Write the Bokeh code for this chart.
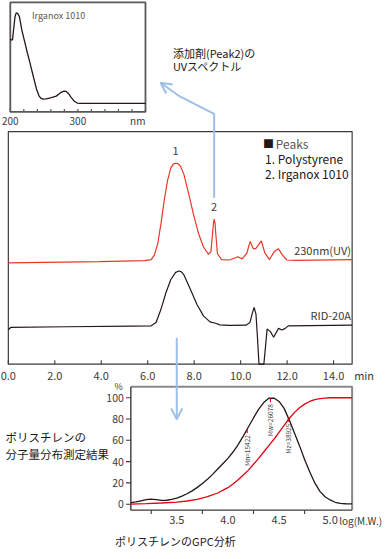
import numpy as np
from bokeh.plotting import figure
from bokeh.models import Range1d, Arrow, OpenHead
from bokeh.core.properties import value
from bokeh.embed import file_html
from bokeh.resources import INLINE

# ---------------- data ----------------
# UV spectrum of Irganox 1010 (inset)
spec_nm = [200, 201.5, 203.3, 205, 207, 208.7, 211, 213.5, 217, 221.7, 225, 229, 233.8,
           238.7, 242.5, 245, 248.3, 253, 258, 263, 268, 272, 275, 279.7, 282, 284.5,
           287, 289.4, 294.2, 299, 303, 310, 400]
spec_abs = [0.667, 0.655, 0.66, 0.76, 0.87, 0.905, 0.9, 0.87, 0.75, 0.63, 0.545, 0.45,
            0.33, 0.21, 0.147, 0.125, 0.117, 0.119, 0.126, 0.134, 0.144, 0.163, 0.178,
            0.19, 0.188, 0.177, 0.16, 0.138, 0.10, 0.081, 0.078, 0.078, 0.078]
spec_ticks = [200, 220, 240, 260, 280, 300, 320, 340, 360, 380, 400]
spec_label_pos = [200, 300]
spec_labels = ["200", "300"]

# Chromatogram, 230nm (UV)
uv_t = [0.0, 3.9, 5.87, 6.15, 6.29, 6.43, 6.57, 6.71, 6.85, 6.99, 7.1, 7.2, 7.3, 7.41,
        7.56, 7.77, 7.98, 8.19, 8.4, 8.61, 8.72, 8.79, 8.83, 8.86, 8.9, 8.93, 9.0, 9.17,
        9.52, 9.88, 10.06, 10.26, 10.41, 10.54, 10.65, 10.75, 10.89, 11.04, 11.24,
        11.46, 11.63, 11.8, 11.99, 12.34, 14.8]
uv_s = [43.6, 44.1, 44.5, 45.0, 47.0, 51.8, 60.3, 70.3, 78.8, 84.3, 86.0, 86.4, 86.2,
        85.2, 81.5, 73.0, 64.0, 56.1, 50.4, 47.3, 48.3, 56.1, 60.5, 62.4, 60.5, 56.1,
        47.6, 45.0, 44.8, 46.2, 45.3, 47.6, 52.8, 49.7, 49.7, 51.1, 53.0, 47.9, 45.0,
        48.6, 49.6, 46.9, 44.8, 44.6, 45.0]

# Chromatogram, RID-20A
ri_t = [0.0, 0.1, 2.5, 5.3, 6.15, 6.36, 6.57, 6.78, 6.99, 7.2, 7.35, 7.45, 7.56, 7.84,
        8.12, 8.4, 8.68, 8.96, 9.1, 9.52, 10.23, 10.4, 10.51, 10.58, 10.66, 10.72,
        10.79, 11.0, 11.14, 11.28, 11.42, 11.63, 11.78, 11.92, 12.05, 14.8]
ri_s = [14.8, 15.8, 16.1, 16.4, 16.5, 17.9, 23.6, 30.6, 36.3, 39.5, 40.1, 39.7, 38.4,
        32.1, 25.7, 20.8, 18.2, 17.5, 16.9, 16.7, 16.8, 17.9, 22.2, 24.4, 21.5, 12.3,
        0.0, 0.0, 15.1, 14.0, 11.6, 15.4, 14.7, 15.4, 16.5, 16.8]
main_ticks = [0, 2, 4, 6, 8, 10, 12, 14]
main_tick_labels = ["0.0", "2.0", "4.0", "6.0", "8.0", "10.0", "12.0", "14.0"]
peak_t = [7.2, 8.86]
peak_labels = ["1", "2"]

# GPC molecular weight distribution
gpc_log = [3.05, 3.1, 3.15, 3.2, 3.245, 3.3, 3.35, 3.4, 3.45, 3.5, 3.55, 3.6, 3.65, 3.7,
           3.75, 3.8, 3.85, 3.9, 3.95, 4.0, 4.05, 4.1, 4.15, 4.2, 4.25, 4.3, 4.35, 4.4,
           4.45, 4.5, 4.55, 4.6, 4.65, 4.7, 4.75, 4.8, 4.85, 4.9, 4.95, 5.0, 5.05, 5.1,
           5.15, 5.215]
gpc_diff = [1.5, 2.2, 3.2, 4.2, 4.8, 4.3, 3.6, 3.7, 4.5, 5.8, 7.5, 9.8, 12.5, 15.8,
            19.5, 23.5, 28.0, 33.0, 38.0, 43.0, 49.0, 56.0, 64.0, 72.5, 81.0, 89.0,
            95.5, 99.5, 99.7, 96.5, 90.0, 79.0, 67.0, 55.0, 42.0, 30.5, 20.0, 12.0,
            7.0, 4.0, 1.8, 0.8, 0.4, 0.2]
cum_log = [3.05, 3.2, 3.35, 3.5, 3.6, 3.7, 3.8, 3.9, 4.0, 4.05, 4.1, 4.15, 4.2, 4.25,
           4.3, 4.35, 4.4, 4.45, 4.5, 4.55, 4.6, 4.65, 4.7, 4.75, 4.8, 4.85, 4.9, 4.95,
           5.0, 5.215]
gpc_cum = [0.0, 0.5, 1.1, 1.9, 3.0, 4.6, 7.0, 10.5, 15.5, 19.0, 23.0, 27.5, 32.0, 37.5,
           43.0, 49.0, 55.0, 61.0, 67.5, 74.0, 80.5, 86.0, 90.5, 94.0, 96.5, 98.2, 99.2,
           99.7, 100.0, 100.0]
gpc_yticks = [0, 20, 40, 60, 80, 100]
gpc_ylabels = ["0", "20", "40", "60", "80", "100"]
gpc_xticks = [3.25, 3.75, 4.25, 4.75]
gpc_xlabel_pos = [3.5, 4.0, 4.5, 5.0]
gpc_xlabels = ["3.5", "4.0", "4.5", "5.0"]
stat_log = [4.188, 4.416, 4.590]
stat_labels = ["Mn=15422", "Mw=26078", "Mz=38925"]

# ---------------- styles ----------------
W, H = 392, 559
FONT = value("Noto Sans CJK JP")
RED = "#e8382b"
GRED = "#e60012"
BLACK = "#231815"
BLUE = "#9fbfe6"
FRAME = "#3e3a39"
TXT = "#3e3a39"


def xmap(d0, p0, d1, p1):
    k = (p1 - p0) / (d1 - d0)
    s = d0 - p0 / k
    return Range1d(s, s + W / k)


def ymap(d0, p0, d1, p1):
    k = (p0 - p1) / (d1 - d0)
    e = d1 + p1 / k
    return Range1d(e - H / k, e)


p = figure(width=384, height=551, x_range=Range1d(0, W), y_range=Range1d(H, 0),
           x_axis_type=None, y_axis_type=None, output_backend="svg",
           toolbar_location=None, min_border=0, outline_line_color=None)
p.extra_x_ranges = {"spec": xmap(200, 10, 400, 148),
                    "main": xmap(0, 8, 14, 340),
                    "gpc": xmap(3.5, 180, 5.0, 336.5)}
p.extra_y_ranges = {"spec": ymap(0, 113, 1, 2),
                    "main": ymap(0, 369, 100, 133),
                    "gpc": ymap(0, 511, 100, 403)}
MK = 236 / 100.0      # px per main unit
GK = 108 / 100.0      # px per gpc unit
SK = 111.0            # px per spectrum unit
GXK = 156.5 / 1.5     # px per log unit

S = dict(x_range_name="spec", y_range_name="spec")
M = dict(x_range_name="main", y_range_name="main")
G = dict(x_range_name="gpc", y_range_name="gpc")

# ---- inset UV spectrum ----
p.quad(left=[200], right=[400], bottom=[0], top=[1], fill_alpha=0,
       line_color="#595757", line_width=1.8, **S)
p.segment(x0=spec_ticks, y0=[0] * len(spec_ticks), x1=spec_ticks,
          y1=[3 / SK] * len(spec_ticks), line_color="#595757", line_width=1.2, **S)
p.line(spec_nm, spec_abs, line_color=BLACK, line_width=1.3, **S)
p.text(x=spec_label_pos, y=[0, 0], text=spec_labels, text_align="center",
       text_baseline="middle", y_offset=9, text_font=FONT, text_font_size="10px",
       text_color=TXT, **S)
p.text(x=[400], y=[0], text=["nm"], text_align="right", text_baseline="middle",
       y_offset=9, text_font=FONT, text_font_size="10px", text_color=TXT, **S)
p.text(x=[232], y=[0.88], text=["Irganox 1010"], text_align="left",
       text_baseline="middle", text_font=FONT, text_font_size="9px",
       text_color="#595757", **S)

# ---- main chromatogram ----
p.quad(left=[0], right=[14.8], bottom=[0], top=[100], fill_alpha=0,
       line_color=FRAME, line_width=1.2, **M)
p.segment(x0=main_ticks, y0=[0] * 8, x1=main_ticks, y1=[4 / MK] * 8,
          line_color=FRAME, line_width=1.1, **M)
p.text(x=main_ticks, y=[0] * 8, text=main_tick_labels, text_align="center",
       text_baseline="middle", y_offset=12, text_font=FONT, text_font_size="11px",
       text_color=TXT, **M)
p.text(x=[14.8], y=[0], text=["min"], text_align="left", text_baseline="middle",
       x_offset=2, y_offset=11, text_font=FONT, text_font_size="11px",
       text_color=TXT, **M)
p.line(uv_t, uv_s, line_color=RED, line_width=1.2, **M)
p.line(ri_t, ri_s, line_color=BLACK, line_width=1.2, **M)
p.text(x=peak_t, y=[uv_s[11], uv_s[23]], text=peak_labels, text_align="center",
       text_baseline="middle", y_offset=-12, text_font=FONT, text_font_size="11px",
       text_color=TXT, **M)
p.text(x=[14.75, 14.75], y=[uv_s[-1], ri_s[-1]], text=["230nm(UV)", "RID-20A"],
       text_align="right", text_baseline="middle", y_offset=-10, text_font=FONT,
       text_font_size="11px", text_color=TXT, **M)

# legend-like note
p.text(x=[268], y=[145], text=["■"], text_align="left", text_baseline="middle",
       text_font=FONT, text_font_size="11px", text_color=BLACK)
p.text(x=[281], y=[145], text=["Peaks"], text_align="left", text_baseline="middle",
       text_font=FONT, text_font_size="12px", text_color="#595757")
p.text(x=[270, 270], y=[160.5, 176], text=["1. Polystyrene", "2. Irganox 1010"],
       text_align="left", text_baseline="middle", text_font=FONT,
       text_font_size="12px", text_color=BLACK)

# arrows
p.line([8.86, 8.86, 7.4], [71.6, 107.6, 115.0], line_color=BLUE, line_width=2, **M)
p.add_layout(Arrow(end=OpenHead(size=11, line_color=BLUE, line_width=2),
                   x_start=7.4, y_start=115.0, x_end=6.55, y_end=121.0,
                   line_color=BLUE, line_width=2, **M))
p.add_layout(Arrow(end=OpenHead(size=11, line_color=BLUE, line_width=2),
                   x_start=7.25, y_start=11.4, x_end=7.25, y_end=-23.7,
                   line_color=BLUE, line_width=2, **M))
p.text(x=[176, 176], y=[53, 66], text=["添加剤(Peak2)の", "UVスペクトル"],
       text_align="left", text_baseline="middle", text_font=FONT,
       text_font_size="11px", text_color=BLACK)

# ---- GPC panel ----
p.line([3.05, 5.215, 5.215], [110.2, 110.2, -5.6], line_color="#898989",
       line_width=2, **G)
p.line([3.05, 3.05, 5.215], [110.2, -5.6, -5.6], line_color=FRAME,
       line_width=1.4, **G)
p.segment(x0=[3.05] * 6, y0=gpc_yticks, x1=[3.05 - 5 / GXK] * 6, y1=gpc_yticks,
          line_color=FRAME, line_width=1.1, **G)
p.text(x=[3.05] * 6, y=gpc_yticks, text=gpc_ylabels, text_align="right",
       text_baseline="middle", x_offset=-7, text_font=FONT, text_font_size="10.5px",
       text_color=TXT, **G)
p.text(x=[3.05], y=[110.2], text=["%"], text_align="right", text_baseline="middle",
       x_offset=-8, text_font=FONT, text_font_size="9px", text_color=TXT, **G)
p.segment(x0=gpc_xticks, y0=[-5.6] * 4, x1=gpc_xticks, y1=[-5.6 - 4 / GK] * 4,
          line_color=FRAME, line_width=1.1, **G)
p.text(x=gpc_xlabel_pos, y=[-5.6] * 4, text=gpc_xlabels, text_align="center",
       text_baseline="middle", y_offset=10, text_font=FONT, text_font_size="11px",
       text_color=TXT, **G)
p.text(x=[5.0], y=[-5.6], text=["log(M.W.)"], text_align="left",
       text_baseline="middle", x_offset=9, y_offset=10, text_font=FONT,
       text_font_size="10px", text_color=TXT, **G)
p.line(cum_log, gpc_cum, line_color=GRED, line_width=1.3, **G)
p.line(gpc_log, gpc_diff, line_color=BLACK, line_width=1.3, **G)

stat_top = list(np.interp(stat_log, gpc_log, gpc_diff))
stat_bot = [v - 4 / GK for v in stat_top]
p.segment(x0=stat_log, y0=stat_top, x1=stat_log, y1=stat_bot, line_color=GRED,
          line_width=1.2, **G)
p.text(x=stat_log, y=stat_bot, text=stat_labels, angle=np.pi / 2, text_align="right",
       text_baseline="middle", y_offset=2, text_font=FONT, text_font_size="6.5px",
       text_color=TXT, **G)

# side / bottom captions
p.text(x=[5, 5], y=[443, 460], text=["ポリスチレンの", "分子量分布測定結果"],
       text_align="left", text_baseline="middle", text_font=FONT,
       text_font_size="11.5px", text_color=BLACK)
p.text(x=[117], y=[548], text=["ポリスチレンのGPC分析"], text_align="left",
       text_baseline="middle", text_font=FONT, text_font_size="11px",
       text_color=BLACK)

open("out.html", "w").write(file_html(p, INLINE))
